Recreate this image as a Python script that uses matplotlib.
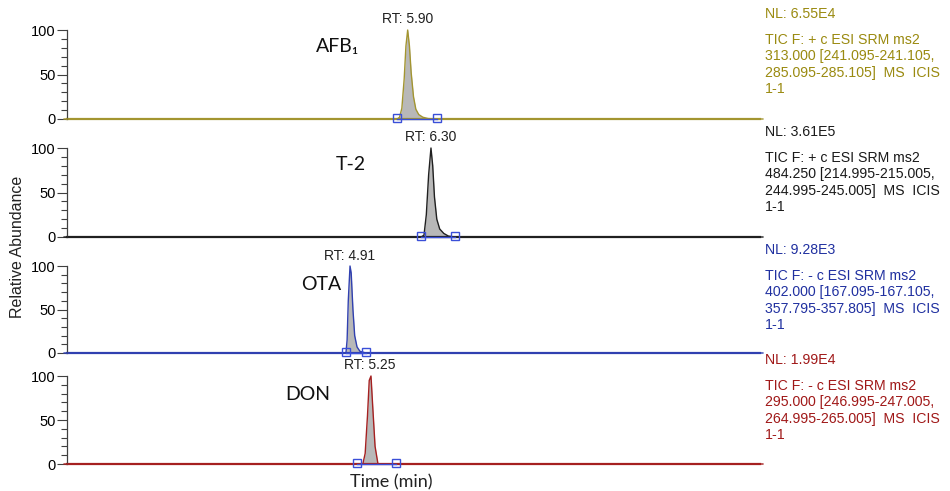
import matplotlib.pyplot as plt
from matplotlib.ticker import MultipleLocator

# compounds (top to bottom)
names = ['AFB\u2081', 'T-2', 'OTA', 'DON']
rt_labels = ['RT: 5.90', 'RT: 6.30', 'RT: 4.91', 'RT: 5.25']
rt_values = [5.90, 6.30, 4.91, 5.25]
colors = ['#a39530', '#202020', '#3040b0', '#a52020']
text_colors = ['#9a8a10', '#1a1a1a', '#2030a0', '#a01818']
nl_labels = ['NL: 6.55E4', 'NL: 3.61E5', 'NL: 9.28E3', 'NL: 1.99E4']
scan_info = [
    'TIC F: + c ESI SRM ms2\n313.000 [241.095-241.105,\n285.095-285.105]  MS  ICIS\n1-1',
    'TIC F: + c ESI SRM ms2\n484.250 [214.995-215.005,\n244.995-245.005]  MS  ICIS\n1-1',
    'TIC F: - c ESI SRM ms2\n402.000 [167.095-167.105,\n357.795-357.805]  MS  ICIS\n1-1',
    'TIC F: - c ESI SRM ms2\n295.000 [246.995-247.005,\n264.995-265.005]  MS  ICIS\n1-1',
]

# traces (time in min, relative abundance)
t_afb = [0.0, 5.72, 5.76, 5.80, 5.84, 5.87, 5.90, 5.93, 5.96, 6.00, 6.04, 6.09, 6.16, 6.25, 6.40, 12.0]
y_afb = [0, 0, 2, 12, 45, 82, 100, 82, 52, 25, 11, 5, 2, 0.5, 0, 0]
t_t2 = [0.0, 6.13, 6.18, 6.22, 6.26, 6.30, 6.33, 6.36, 6.40, 6.45, 6.52, 6.60, 6.71, 12.0]
y_t2 = [0, 0, 2, 25, 70, 100, 80, 45, 20, 9, 4, 1, 0, 0]
t_ota = [0.0, 4.84, 4.86, 4.88, 4.91, 4.93, 4.96, 4.99, 5.03, 5.08, 5.18, 12.0]
y_ota = [0, 0, 15, 60, 100, 92, 50, 20, 7, 2, 0, 0]
t_don = [0.0, 5.13, 5.17, 5.21, 5.24, 5.27, 5.30, 5.34, 5.39, 12.0]
y_don = [0, 0, 12, 55, 95, 100, 65, 20, 0, 0]
traces = [(t_afb, y_afb), (t_t2, y_t2), (t_ota, y_ota), (t_don, y_don)]

# integration markers (peak start / end)
peak_bounds = [(5.72, 6.40), (6.13, 6.71), (4.84, 5.18), (5.03, 5.70)]

# panel pixel positions: (y at 100, y at 0)
W, H = 950, 491
panels_px = [(30, 119), (148, 237), (266, 353), (376, 464)]
x_left, x_right = 67, 760
label_pos = [(338, 47), (351, 165), (321, 285), (308, 395)]

fig = plt.figure(figsize=(W / 100, H / 100), dpi=100)

for i, (top, bot) in enumerate(panels_px):
    ax = fig.add_axes([x_left / W, 1 - bot / H, (x_right - x_left) / W, (bot - top) / H])
    t, y = traces[i]
    ax.fill_between(t, y, 0, color='#b8b8b8', lw=0)
    ax.plot(t, y, color=colors[i], lw=1.0, clip_on=False, zorder=3)
    ax.plot([0.05, 11.95], [0, 0], color=colors[i], lw=1.6, clip_on=False, zorder=2)
    b0, b1 = peak_bounds[i]
    ax.plot([b0, b1], [0, 0], color='#3a4fd8', lw=1.0, clip_on=False, zorder=4)
    ax.plot([b0, b1], [1.5, 1.5], ls='none', marker='s', ms=5.5, mfc='none',
            mec='#3a4fd8', mew=1.0, clip_on=False, zorder=5)
    ax.text(rt_values[i], 104, rt_labels[i], ha='center', va='bottom',
            fontsize=10, family='Liberation Sans', color='#202020')

    ax.set_xlim(0.05, 11.95)
    ax.set_ylim(0, 100)
    for s in ['top', 'right', 'bottom']:
        ax.spines[s].set_visible(False)
    ax.spines['left'].set_linewidth(0.9)
    ax.spines['left'].set_color('#404040')
    ax.set_xticks([])
    ax.yaxis.set_major_locator(MultipleLocator(50))
    ax.yaxis.set_minor_locator(MultipleLocator(10))
    ax.tick_params(axis='y', which='major', length=7, width=0.8, color='#404040',
                   labelsize=10.5, pad=1)
    ax.tick_params(axis='y', which='minor', length=4, width=0.8, color='#404040')
    for lab in ax.get_yticklabels():
        lab.set_family('Liberation Sans')
    ax.patch.set_alpha(0)

    # compound label
    lx, ly = label_pos[i]
    fig.text(lx / W, 1 - ly / H, names[i], ha='center', va='center',
             fontsize=14, family=['Lato', 'DejaVu Sans'], color='#111111')

    # right-side info text
    fig.text(765 / W, 1 - (top - 16) / H, nl_labels[i], ha='left', va='center',
             fontsize=10.2, family='Liberation Sans', color=text_colors[i])
    fig.text(765 / W, 1 - (top + 3) / H, scan_info[i], ha='left', va='top',
             fontsize=10.2, family='Liberation Sans', color=text_colors[i],
             linespacing=1.22)

fig.text(18 / W, 1 - 247 / H, 'Relative Abundance', rotation=90, ha='center', va='center',
         fontsize=11.5, family='Liberation Sans', color='#222222')
fig.text(391 / W, 1 - 482 / H, 'Time (min)', ha='center', va='center',
         fontsize=13, family='Lato', color='#222222')

fig.savefig('out.png', dpi=100)
